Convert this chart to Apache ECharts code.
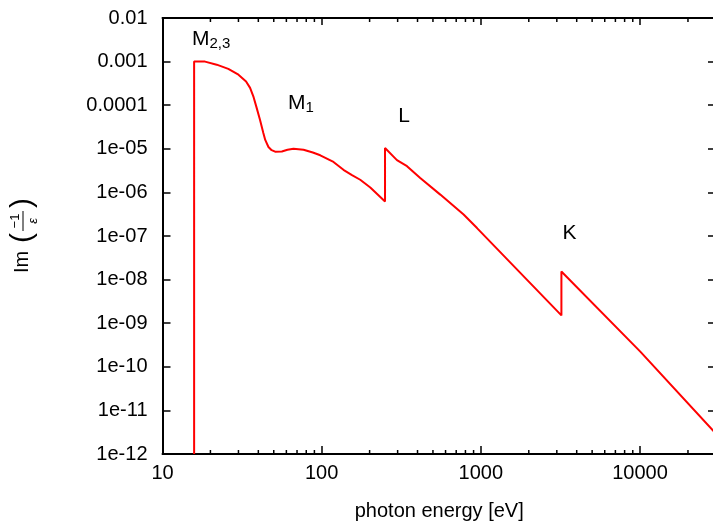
<!DOCTYPE html>
<html>
<head>
<meta charset="utf-8">
<script src="https://cdn.jsdelivr.net/npm/echarts@6/dist/echarts.min.js"></script>
<style>
  html, body { margin: 0; padding: 0; background: #fff; }
  #chart { width: 713px; height: 522px; }
</style>
</head>
<body>
<div id="chart"></div>
<script>
// photon energy [eV] and loss function Im(-1/eps)
const energy = [15.8, 15.8, 18.5, 21.9, 25.9, 30.0, 33.5, 35.5, 37.2, 39.0, 41.0, 43.0, 44.2, 46.3,
  48.5, 51.0, 56.2, 61.0, 66.5, 76.9, 88, 98, 118.6, 137, 155, 174.6, 202, 250, 250, 297, 343.6,
  416, 556, 779, 946, 3206, 3206, 10070, 30000];
const lossFunction = [1e-12, 1.0e-3, 1.0e-3, 8.5e-4, 6.8e-4, 5.0e-4, 3.5e-4, 2.5e-4, 1.6e-4, 8.8e-5,
  4.6e-5, 2.3e-5, 1.6e-5, 1.1e-5, 9.3e-6, 8.6e-6, 8.7e-6, 9.5e-6, 1.0e-5, 9.5e-6, 8.2e-6,
  7.1e-6, 5.0e-6, 3.3e-6, 2.5e-6, 1.95e-6, 1.3e-6, 6.2e-7, 1.04e-5, 5.5e-6, 4.0e-6,
  2.14e-6, 8.9e-7, 3.1e-7, 1.52e-7, 1.51e-9, 1.54e-8, 2.2e-10, 2.9e-12];

// edge labels
const edgeNames = ['M', 'M', 'L', 'K'];
const edgeSubs = ['2,3', '1', '', ''];
const edgeX = [15.3, 61.5, 303, 3260];
const edgeY = [3.27e-3, 1.11e-4, 5.74e-5, 1.13e-7];

const xTickLabels = ['10', '100', '1000', '10000'];
const yTickLabels = ['1e-12', '1e-11', '1e-10', '1e-09', '1e-08', '1e-07', '1e-06', '1e-05',
  '0.0001', '0.001', '0.01'];
const xMinorTicks = [20, 30, 40, 50, 60, 70, 80, 90, 200, 300, 400, 500, 600, 700, 800, 900,
  2000, 3000, 4000, 5000, 6000, 7000, 8000, 9000, 20000];

const FONT = '"Liberation Sans", Arial, sans-serif';
const X_MIN = 10, X_MAX = 30000, Y_MIN = 1e-12, Y_MAX = 0.01;

const chart = echarts.init(document.getElementById('chart'));

const axisLine = { show: true, lineStyle: { color: '#000', width: 2 } };
const tick = (len) => ({ show: true, inside: true, length: len, lineStyle: { color: '#000', width: 1.5 } });

function xLabel(v) {
  const e = Math.log10(v);
  const r = Math.round(e);
  if (Math.abs(e - r) > 1e-6) return '';
  return xTickLabels[r - 1] || '';
}
function yLabel(v) {
  const r = Math.round(Math.log10(v));
  return yTickLabels[r + 12] || '';
}

const option = {
  backgroundColor: '#fff',
  animation: false,
  grid: { left: 162.5, right: -3, top: 18, bottom: 68, outerBoundsMode: 'none' },
  xAxis: [{
    type: 'log', min: X_MIN, max: X_MAX, interval: 1, position: 'bottom',
    axisLine, axisTick: tick(8), splitLine: { show: false },
    axisLabel: { formatter: xLabel, color: '#000', fontFamily: FONT, fontSize: 20, margin: 9, showMaxLabel: false },
    name: 'photon energy [eV]', nameLocation: 'middle', nameGap: 47,
    nameTextStyle: { color: '#000', fontFamily: FONT, fontSize: 20 }
  }, {
    type: 'log', min: X_MIN, max: X_MAX, interval: 1, position: 'top',
    axisLine, axisTick: tick(7), splitLine: { show: false }, axisLabel: { show: false }
  }],
  yAxis: [{
    type: 'log', min: Y_MIN, max: Y_MAX, interval: 1, position: 'left',
    axisLine, axisTick: tick(8), splitLine: { show: false },
    axisLabel: { formatter: yLabel, color: '#000', fontFamily: FONT, fontSize: 20, margin: 15 }
  }, {
    type: 'log', min: Y_MIN, max: Y_MAX, interval: 1, position: 'right',
    axisLine, axisTick: tick(8), splitLine: { show: false }, axisLabel: { show: false }
  }],
  graphic: [{
    // y title Im(-1/eps), rotated to read bottom to top
    type: 'group', x: 24, y: 236, rotation: Math.PI / 2,
    children: [
      { type: 'text', x: -37, y: -1.5, style: { text: 'Im', fontFamily: FONT, fontSize: 20, fill: '#000', align: 'left', verticalAlign: 'middle' } },
      { type: 'text', x: -2, y: -1, style: { text: '(', fontFamily: FONT, fontSize: 30, fill: '#000', align: 'center', verticalAlign: 'middle' } },
      { type: 'text', x: 15, y: -8.5, style: { text: '\u22121', fontFamily: FONT, fontSize: 13, fill: '#000', align: 'center', verticalAlign: 'middle' } },
      { type: 'line', shape: { x1: 5, y1: -1, x2: 25, y2: -1 }, style: { stroke: '#000', lineWidth: 1 } },
      { type: 'text', x: 15, y: 9, style: { text: '\u03b5', fontFamily: FONT, fontSize: 13, fontStyle: 'italic', fill: '#000', align: 'center', verticalAlign: 'middle' } },
      { type: 'text', x: 33, y: -1, style: { text: ')', fontFamily: FONT, fontSize: 30, fill: '#000', align: 'center', verticalAlign: 'middle' } }
    ]
  }],
  series: [{
    type: 'line',
    data: energy.map((e, i) => [e, lossFunction[i]]),
    showSymbol: false,
    lineStyle: { color: '#ff0000', width: 2 },
    z: 3,
    markPoint: {
      symbol: 'circle', symbolSize: 0,
      label: {
        show: true, position: [0, 0], align: 'left', verticalAlign: 'middle',
        formatter: (p) => '{m|' + p.data.name + '}' + (p.data.sub ? '{s|' + p.data.sub + '}' : ''),
        rich: {
          m: { fontFamily: FONT, fontSize: 21, color: '#000', lineHeight: 24, verticalAlign: 'middle' },
          s: { fontFamily: FONT, fontSize: 15, color: '#000', lineHeight: 24, verticalAlign: 'bottom' }
        }
      },
      data: edgeNames.map((n, i) => ({ name: n, sub: edgeSubs[i], coord: [edgeX[i], edgeY[i]] }))
    }
  }, {
    // minor ticks on bottom and top x axes (2..9 per decade)
    type: 'custom',
    data: xMinorTicks.map((v) => [v, 1e-6]),
    renderItem: (params, api) => {
      const px = api.coord([api.value(0), api.value(1)])[0];
      const cs = params.coordSys;
      const st = { stroke: '#000', lineWidth: 1.5 };
      return {
        type: 'group',
        children: [
          { type: 'line', shape: { x1: px, y1: cs.y + cs.height, x2: px, y2: cs.y + cs.height - 4 }, style: st },
          { type: 'line', shape: { x1: px, y1: cs.y, x2: px, y2: cs.y + 4 }, style: st }
        ]
      };
    },
    z: 4, silent: true
  }]
};

chart.setOption(option);
</script>
</body>
</html>
